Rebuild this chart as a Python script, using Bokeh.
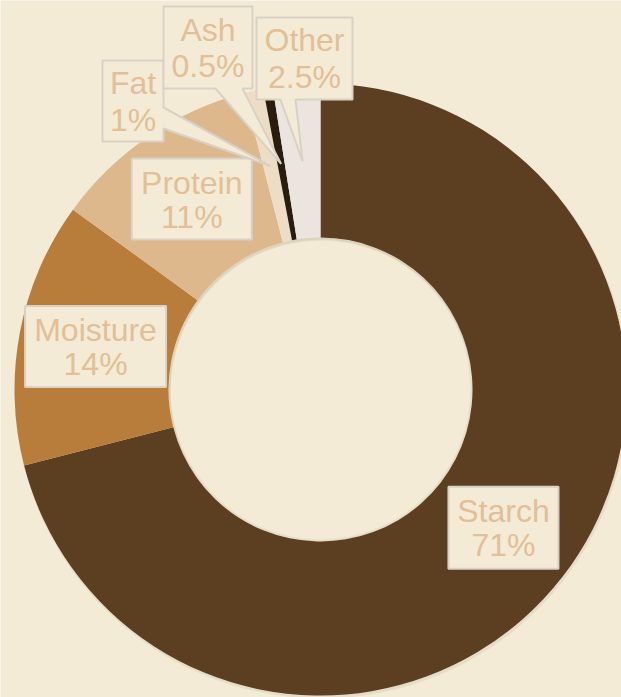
import math
from bokeh.plotting import figure
from bokeh.models import Range1d
from bokeh.core.properties import value
from bokeh.embed import file_html
from bokeh.resources import INLINE

# ---- data ----
categories = ["Starch", "Moisture", "Protein", "Fat", "Ash", "Other"]
percents = [71, 14, 11, 1, 0.5, 2.5]
pct_labels = ["71%", "14%", "11%", "1%", "0.5%", "2.5%"]
colors = ["#5C3F20", "#B87D3A", "#DDB88C", "#EEDDC6", "#2A1D0D", "#ECE4DF"]

# ---- layout / style ----
BG = "#F3EBD6"
BORDER = "#DAD1C6"
TEXT = "#E2BF96"
FONT = "Liberation Sans"
FS = "32px"
TEXT_SHIFT = 11
W, H = 621, 697
SCREEN_H = 697
CX, CY = 320, SCREEN_H - 389
R_OUT, R_IN = 306, 152
R_MID = (R_OUT + R_IN) / 2

def sy(y):
    return SCREEN_H - y

p = figure(width=W, height=H, output_backend="svg", toolbar_location=None,
           x_range=Range1d(0, W), y_range=Range1d(0, H),
           min_border=0, background_fill_color=BG, border_fill_color=BG,
           outline_line_color=None)
p.axis.visible = False
p.grid.visible = False

# wedges, clockwise from top
total = sum(percents)
starts, ends, mids = [], [], []
a = 90.0
for v in percents:
    sweep = v / total * 360.0
    starts.append(math.radians(a - sweep))
    ends.append(math.radians(a))
    mids.append(math.radians(a - sweep / 2))
    a -= sweep

# subtle shadow
p.annulus(x=CX + 1, y=CY - 2, inner_radius=R_IN - 1, outer_radius=R_OUT + 1,
          fill_color="#8a7a60", fill_alpha=0.12, line_color=None)
p.annular_wedge(x=CX, y=CY, inner_radius=R_IN, outer_radius=R_OUT,
                start_angle=starts, end_angle=ends, fill_color=colors,
                line_color=None, direction="anticlock")
# inner hole shadow
p.annulus(x=CX, y=CY, inner_radius=R_IN - 2, outer_radius=R_IN,
          fill_color="#b5a888", fill_alpha=0.18, line_color=None)

def tip(i):
    return CX + R_MID * math.cos(mids[i]), CY + R_MID * math.sin(mids[i])

def draw_text(cx, base1, base2, i):
    p.text(x=[cx, cx], y=[sy(base1 - TEXT_SHIFT), sy(base2 - TEXT_SHIFT)],
           text=[categories[i], pct_labels[i]],
           text_font=value(FONT), text_font_size=FS, text_color=TEXT,
           text_align="center", text_baseline="alphabetic")

# inside labels: box centered near mid angle / mid radius
inside = {0: (110, 82, 2, 2), 1: (141, 81, 0, 0), 2: (120, 81, 0, 1)}
for i, (bw, bh, dx, dy) in inside.items():
    tx, ty = tip(i)
    bx, by = tx + dx, ty + dy
    p.rect(x=bx, y=by, width=bw, height=bh, fill_color=BG, line_color=BORDER,
           line_width=2)
    top = sy(by) - bh / 2
    draw_text(bx, top + 35, top + 69, i)

# outside callouts (screen coords for boxes)
# Fat: pointer on right edge
i = 3
tx, ty = tip(i)
x0, y0, x1, y1 = 102, 60, 163, 141
xs = [x0, x1, x1, tx, x1, x1, x0]
ys = [sy(y0), sy(y0), sy(107), ty, sy(128), sy(y1), sy(y1)]
p.patch(x=xs, y=ys, fill_color=BG, line_color=BORDER, line_width=2)
draw_text((x0 + x1) / 2, 93, 130, i)

# Ash: pointer on bottom edge
i = 4
tx, ty = tip(i)
x0, y0, x1, y1 = 163, 6, 252, 88
xs = [x0, x1, x1, 242, tx, 215, x0]
ys = [sy(y0), sy(y0), sy(y1), sy(y1), ty, sy(y1), sy(y1)]
p.patch(x=xs, y=ys, fill_color=BG, line_color=BORDER, line_width=2)
draw_text((x0 + x1) / 2, 40, 76, i)

# Other: pointer on bottom edge
i = 5
tx, ty = tip(i)
x0, y0, x1, y1 = 256, 17, 352, 99
xs = [x0, x1, x1, 295, tx, 280, x0]
ys = [sy(y0), sy(y0), sy(y1), sy(y1), ty, sy(y1), sy(y1)]
p.patch(x=xs, y=ys, fill_color=BG, line_color=BORDER, line_width=2)
draw_text((x0 + x1) / 2, 50, 87, i)

html = file_html(p, INLINE)
open("out.html", "w").write(html)
